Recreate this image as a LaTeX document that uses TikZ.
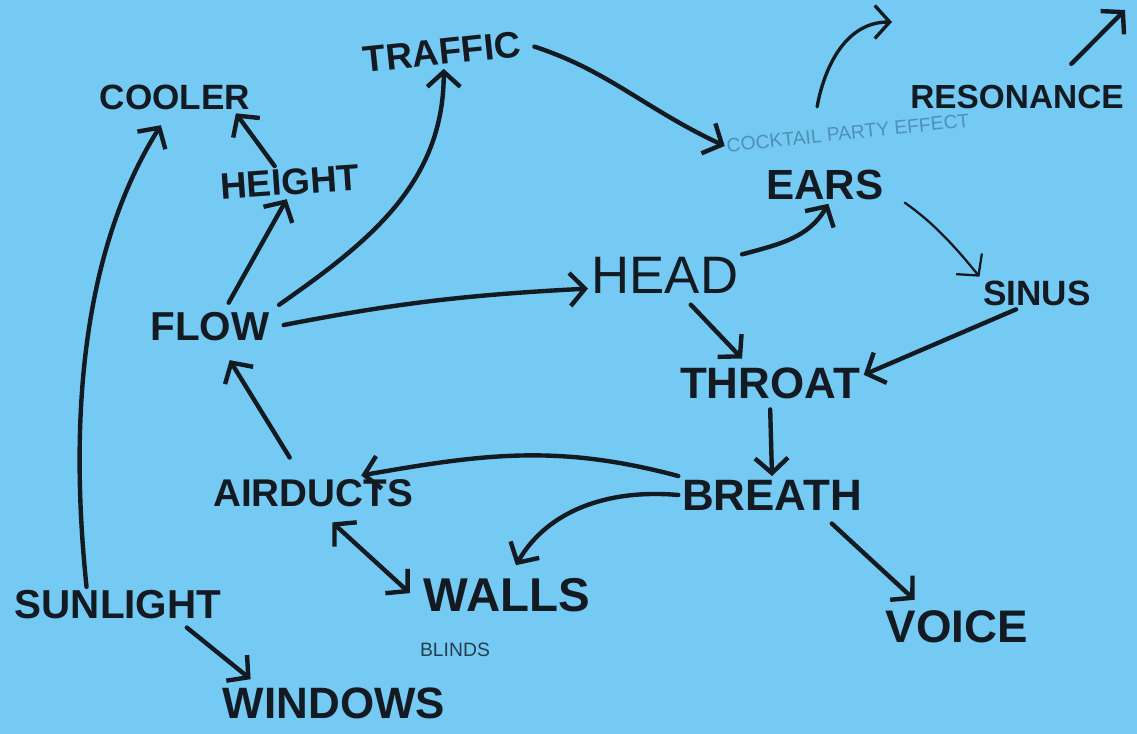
\documentclass[tikz,border=0pt]{standalone}
\usepackage{fontspec}
\setmainfont{Liberation Sans}
\usetikzlibrary{arrows.meta}
\definecolor{sky}{HTML}{74CAF3}
\definecolor{ink}{HTML}{141A22}
\definecolor{pencil}{HTML}{4F8FB8}
\newcommand\hs[1]{\fontsize{#1}{#1}\selectfont}
\begin{document}
\begin{tikzpicture}[x=0.02cm,y=0.02cm,>={Straight Barb[length=3mm,width=6.6mm]},
        word/.style={text=ink,inner sep=2pt,font=\bfseries\hs{#1}},
        note/.style={text=pencil,inner sep=1pt,font=\hs{#1}},
        arr/.style={->,draw=ink,line width=2.5pt,line cap=round,line join=round},
        fine/.style={line width=1.3pt}]
        \fill[sky] (0,0) rectangle (1137,-734);
        \useasboundingbox (0,0) rectangle (1137,-734);
        % words
        \node[word=20] (cooler) at (175,-97) {COOLER};
        \node[word=21,rotate=6] (traffic) at (442,-52) {TRAFFIC};
        \node[word=19] (resonance) at (1017,-97) {RESONANCE};
        \node[note=11,rotate=6] (cocktail) at (848,-133) {COCKTAIL PARTY EFFECT};
        \node[word=21,rotate=4] (height) at (290,-182) {HEIGHT};
        \node[word=24] (ears) at (825,-185) {EARS};
        \node[word=30,font=\hs{30}] (head) at (665,-275) {HEAD};
        \node[word=20] (sinus) at (1037,-293) {SINUS};
        \node[word=23] (flow) at (210,-327) {FLOW};
        \node[word=25] (throat) at (770,-383) {THROAT};
        \node[word=22] (airducts) at (313,-493) {AIRDUCTS};
        \node[word=25] (breath) at (772,-495) {BREATH};
        \node[word=23] (sunlight) at (118,-605) {SUNLIGHT};
        \node[word=27] (walls) at (507,-595) {WALLS};
        \node[note=11,text=ink!80!sky] (blinds) at (455,-650) {BLINDS};
        \node[word=26] (voice) at (957,-627) {VOICE};
        \node[word=25] (windows) at (334,-703) {WINDOWS};
        \coordinate (resup) at (892,-22);
        \coordinate (beyond) at (1125,-10);
        % arrows
        \draw[arr,shorten >=8pt] (sunlight.150) .. controls (65,-380) and (95,-230) .. (cooler.248);
        \draw[arr] (height.130) -- (cooler.-15);
        \draw[arr,shorten <=4pt] (flow.50) -- (height.255);
        \draw[arr,shorten <=4pt] (flow.north east) to[out=35,in=-90] (traffic.south);
        \draw[arr,shorten <=6pt] (flow.east) to[bend left=4] (head.190);
        \draw[arr,shorten <=6pt] (traffic.east) to[out=-18,in=155] (cocktail.west);
        \draw[arr,line width=1.9pt,shorten <=10pt] ([xshift=-0.66cm]cocktail.north) to[out=80,in=180] (resup);
        \draw[arr,shorten <=14pt] (resonance.23) -- (beyond);
        \draw[arr] (head.15) to[out=15,in=240] (ears.280);
        \draw[arr,fine,shorten <=12pt] (ears.-5) to[bend left=8] (sinus.north west);
        \draw[arr] (sinus.218) -- (throat.5);
        \draw[arr,shorten <=6pt,shorten >=4pt] (head.-50) -- (throat.140);
        \draw[arr,shorten <=4pt] (throat.south) -- (breath.north);
        \draw[arr] (breath.north west) to[out=165,in=10] (airducts.20);
        \draw[arr,shorten >=6pt] (breath.west) to[out=175,in=60] (walls.80);
        \draw[arr,shorten <=12pt,shorten >=10pt] (airducts.125) -- (flow.-60);
        \draw[arr,<->,shorten <=10pt,shorten >=8pt] (airducts.-70) -- (walls.185);
        \draw[arr,shorten <=4pt,shorten >=4pt] (sunlight.-16) -- (windows.166);
        \draw[arr,shorten <=8pt,shorten >=6pt] (breath.-21) -- (voice.150);
\end{tikzpicture}
\end{document}
